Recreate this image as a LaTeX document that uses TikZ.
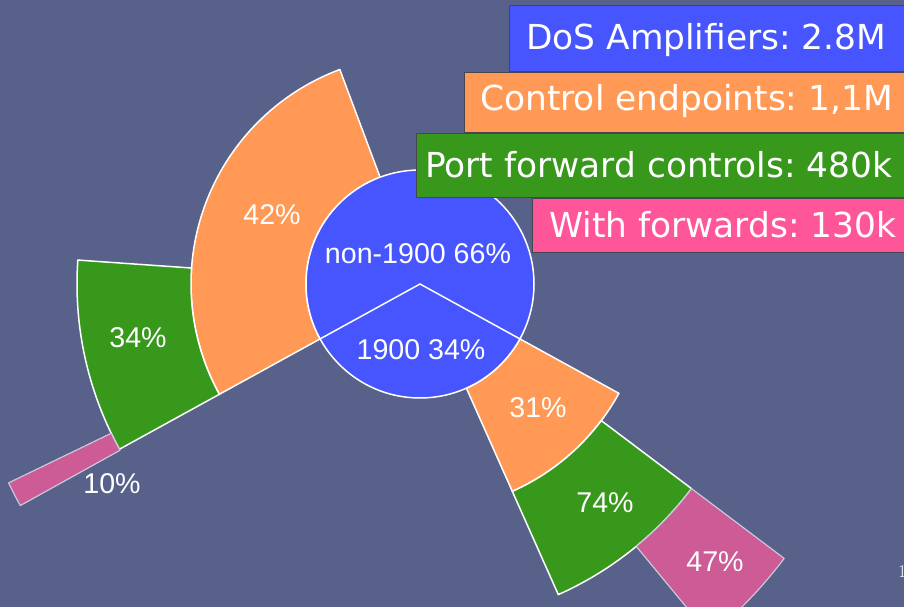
\documentclass[tikz,border=0pt]{standalone}
\usepackage{fontspec}
\usetikzlibrary{calc}
\newfontfamily\labelfont{Liberation Sans}
\newfontfamily\legendfont{DejaVu Sans}
\frenchspacing
\definecolor{bg}{RGB}{87,97,138}
\definecolor{cblue}{RGB}{71,85,255}
\definecolor{corange}{RGB}{255,153,85}
\definecolor{cgreen}{RGB}{55,152,28}
\definecolor{cpink}{RGB}{204,91,150}
\definecolor{lpink}{RGB}{255,85,153}
\definecolor{pinkedge}{RGB}{200,200,218}
\definecolor{boxedge}{RGB}{70,70,80}

% annular sector around the hub: style, start angle, end angle, inner r, outer r
\newcommand\ringsector[5]{%
  \draw[#1,shift={(420,323)}] (#2:#4) -- (#2:#5)
    arc[start angle=#2,end angle=#3,radius=#5] -- (#3:#4)
    arc[start angle=#3,end angle=#2,radius=#4] -- cycle;}

\begin{document}
\begin{tikzpicture}[x=1pt,y=1pt,
  wedge/.style={line width=1.5pt,draw=white,line join=round},
  tipwedge/.style={line width=1.2pt,draw=pinkedge,fill=cpink,line join=round},
  pct/.style={text=white,font=\labelfont\fontsize{28.6}{32}\selectfont,inner sep=0pt},
  legend/.style={draw=boxedge,line width=1pt},
  legtext/.style={text=white,font=\legendfont\fontsize{34.4}{38}\selectfont,inner sep=0pt,anchor=base west}]
\fill[bg] (0,0) rectangle (904,607);
\useasboundingbox (0,0) rectangle (904,607);

% outer rings, non-1900 side
\ringsector{wedge,fill=corange}{110.5}{208.8}{114}{229}
\ringsector{wedge,fill=cgreen}{176}{208.8}{229}{343}
\ringsector{tipwedge}{205.8}{209}{343}{457}
% outer rings, 1900 side
\ringsector{wedge,fill=corange}{294}{331.2}{114}{227}
\ringsector{wedge,fill=cgreen}{294}{323}{227}{340}
\ringsector{tipwedge}{309.5}{323}{340}{456}

% hub split into the two groups
\coordinate (hub) at (420,323);
\node[circle,minimum size=228pt,inner sep=0pt,fill=cblue,draw=white,line width=1.5pt] (pie) at (hub) {};
\coordinate (cutL) at ($(hub)+(208.8:114)$);
\coordinate (cutR) at ($(hub)+(331.2:114)$);
\draw[white,line width=1.5pt,line join=miter] (cutL) -- (hub) -- (cutR);

% legend
\fill[cblue,legend] (509,535) rectangle (915,601);
\fill[corange,legend] (464,474) rectangle (915,534);
\fill[cgreen,legend] (416,409) rectangle (915,473);
\fill[lpink,legend] (532,354) rectangle (915,408);
\node[legtext] (l1) at (526,557) {DoS Amplifiers: 2.8M};
\node[legtext] (l2) at (480,496) {Control endpoints: 1,1M};
\node[legtext] (l3) at (425,429) {Port forward controls: 480k};
\node[legtext] (l4) at (549,369) {With forwards: 130k};

% percentages
\node[pct] (t66) at (418,353) {non-1900 66\%};
\node[pct] (t34) at (421,257) {1900 34\%};
\node[pct] (t42) at (272,392) {42\%};
\node[pct] (t34b) at (138,269) {34\%};
\node[pct] (t10) at (112,123) {10\%};
\node[pct] (t31) at (538,199) {31\%};
\node[pct] (t74) at (605,104) {74\%};
\node[pct] (t47) at (715,45) {47\%};

% page number, running off the right edge
\node[text=white,font=\fontsize{18}{20}\selectfont,inner sep=0pt,anchor=base west] (pg) at (898,29) {1};
\end{tikzpicture}
\end{document}
